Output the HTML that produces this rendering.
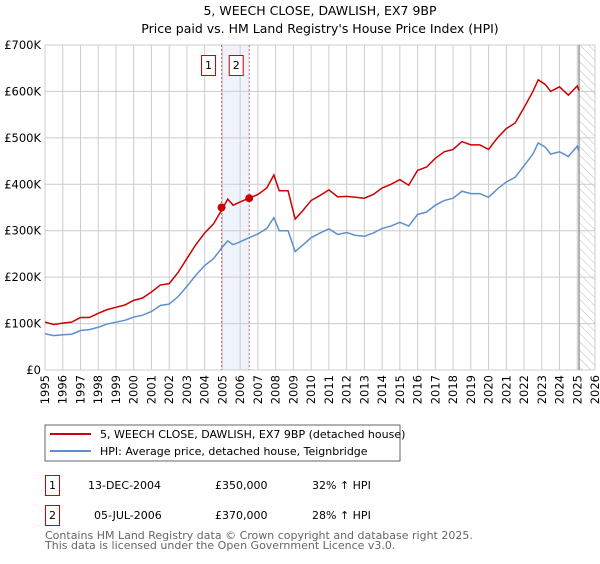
<!DOCTYPE html>
<html><head><meta charset="utf-8"><style>
body{margin:0;background:#fff;font-family:"DejaVu Sans","Liberation Sans",sans-serif;}
svg text{font-family:"DejaVu Sans","Liberation Sans",sans-serif;}
</style></head><body>
<svg id="c" width="600" height="560" xmlns="http://www.w3.org/2000/svg">
<defs><pattern id="hatch" width="6" height="6" patternUnits="userSpaceOnUse" patternTransform="rotate(-45)"><line x1="0" y1="0" x2="0" y2="6" stroke="#bbb" stroke-width="1"/></pattern></defs>
<text x="320" y="15" text-anchor="middle" font-size="12.5">5, WEECH CLOSE, DAWLISH, EX7 9BP</text>
<text x="320" y="33" text-anchor="middle" font-size="12.5">Price paid vs. HM Land Registry's House Price Index (HPI)</text>
<g id="grid"></g><g id="marks"></g><g id="axes"></g>
<rect x="45" y="425" width="355" height="36" fill="#fff" stroke="#666"/>
<line x1="50" y1="434" x2="91" y2="434" stroke="#cc0000" stroke-width="2"/>
<text x="100" y="438" font-size="11">5, WEECH CLOSE, DAWLISH, EX7 9BP (detached house)</text>
<line x1="50" y1="451" x2="91" y2="451" stroke="#5b8fd0" stroke-width="2"/>
<text x="100" y="455" font-size="11">HPI: Average price, detached house, Teignbridge</text>
<g>
<rect x="45.5" y="475.5" width="14" height="20" fill="#fff" stroke="#cc0000"/><text x="52.5" y="489" text-anchor="middle" font-size="11">1</text>
<text x="88" y="489" font-size="11">13-DEC-2004</text><text x="215" y="489" font-size="11">£350,000</text><text x="312" y="489" font-size="11">32% ↑ HPI</text></g>
<g>
<rect x="45.5" y="505.5" width="14" height="20" fill="#fff" stroke="#cc0000"/><text x="52.5" y="519" text-anchor="middle" font-size="11">2</text>
<text x="94" y="519" font-size="11">05-JUL-2006</text><text x="215" y="519" font-size="11">£370,000</text><text x="312" y="519" font-size="11">28% ↑ HPI</text></g>
<text x="45" y="539" font-size="11" fill="#666">Contains HM Land Registry data © Crown copyright and database right 2025.</text>
<text x="45" y="549" font-size="11" fill="#666">This data is licensed under the Open Government Licence v3.0.</text>
</svg>
<script>
const years=[1995,1995.5,1996,1996.5,1997,1997.5,1998,1998.5,1999,1999.5,2000,2000.5,2001,2001.5,2002,2002.5,2003,2003.5,2004,2004.5,2005,2005.3,2005.6,2006,2006.5,2007,2007.5,2007.9,2008.2,2008.7,2009.1,2009.5,2010,2010.5,2011,2011.5,2012,2012.5,2013,2013.5,2014,2014.5,2015,2015.5,2016,2016.5,2017,2017.5,2018,2018.5,2019,2019.5,2020,2020.5,2021,2021.5,2022,2022.5,2022.8,2023.2,2023.5,2024,2024.5,2025,2025.1];
const hpi=[78,74,76,77,85,87,92,99,103,107,114,118,126,139,142,158,180,204,225,240,265,278,270,276,285,293,305,328,300,300,255,268,285,295,304,292,296,290,288,295,305,310,318,310,335,340,355,365,370,385,380,380,372,390,405,415,440,465,489,480,465,470,460,482,472];
const price=[103,98,101,103,113,113,122,130,135,140,150,155,168,183,186,210,240,270,295,315,347,368,355,362,370,378,392,420,386,386,325,342,365,376,388,373,374,372,370,378,392,400,410,398,430,437,456,470,475,492,485,485,475,500,520,532,565,600,625,615,600,610,592,612,602];
const yTicks=[0,100,200,300,400,500,600,700];
const yLabels=["£0","£100K","£200K","£300K","£400K","£500K","£600K","£700K"];
const xTicks=[1995,1996,1997,1998,1999,2000,2001,2002,2003,2004,2005,2006,2007,2008,2009,2010,2011,2012,2013,2014,2015,2016,2017,2018,2019,2020,2021,2022,2023,2024,2025,2026];
const saleYears=[2004.95,2006.51];
const salePrices=[350,370];
const saleLabels=["1","2"];
const X0=45,X1=595,Y0=370,Y1=45;
const sx=y=>X0+(y-1995)/(2026-1995)*(X1-X0);
const sy=v=>Y0-v/700*(Y0-Y1);
const NS="http://www.w3.org/2000/svg";
function mk(t,a,p){const e=document.createElementNS(NS,t);for(const k in a)e.setAttribute(k,a[k]);p.appendChild(e);return e;}
const grid=document.getElementById('grid'),marks=document.getElementById('marks'),axes=document.getElementById('axes');
let b=mk('rect',{x:sx(saleYears[0]),y:Y1,width:sx(saleYears[1])-sx(saleYears[0]),height:Y0-Y1,fill:'#eef3fc'},grid);


let h=mk('rect',{x:sx(2025.1),y:Y1,width:X1-sx(2025.1),height:Y0-Y1,fill:'url(#hatch)'},grid);


yTicks.forEach((v,i)=>{
 let l=mk('line',{x1:X0,x2:X1,y1:sy(v),y2:sy(v),stroke:'#ccc'},grid);
 
 
 let t=mk('text',{x:41,y:sy(v)+4,'text-anchor':'end','font-size':'11.5'},axes);t.textContent=yLabels[i];
 
 
});
xTicks.forEach(y=>{
 let l=mk('line',{x1:sx(y),x2:sx(y),y1:Y1,y2:Y0,stroke:'#ccc'},grid);
 
 
 let t=mk('text',{transform:`translate(${sx(y)+4},${Y0+5}) rotate(-90)`,'text-anchor':'end','font-size':'11.5'},axes);t.textContent=y;
 
 
});
let vl=mk('line',{x1:sx(2025.1),x2:sx(2025.1),y1:Y1,y2:Y0,stroke:'#999','stroke-width':1.5},grid);


saleYears.forEach((y,i)=>{
 let l=mk('line',{x1:sx(y),x2:sx(y),y1:Y1,y2:Y0,stroke:'#e06060','stroke-dasharray':'2,2'},marks);
 
 
 let r=mk('rect',{x:sx(y)-20,y:55.5,width:14,height:20,fill:'#fff',stroke:'#cc0000'},marks);
 
 
 let t=mk('text',{x:sx(y)-13,y:69,'text-anchor':'middle','font-size':'11'},marks);t.textContent=saleLabels[i];
 
 
});
let p1=mk('polyline',{points:years.map((y,i)=>sx(y)+','+sy(hpi[i])).join(' '),fill:'none',stroke:'#5b8fd0','stroke-width':1.5},marks);


let p2=mk('polyline',{points:years.map((y,i)=>sx(y)+','+sy(price[i])).join(' '),fill:'none',stroke:'#cc0000','stroke-width':1.5},marks);


saleYears.forEach((y,i)=>{
 let c=mk('circle',{cx:sx(y),cy:sy(salePrices[i]),r:4,fill:'#cc0000'},marks);
 
 
});
</script>
</body></html>
